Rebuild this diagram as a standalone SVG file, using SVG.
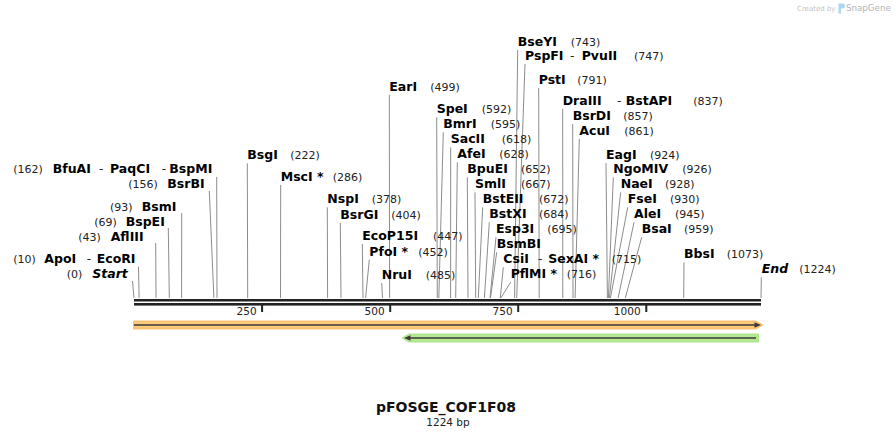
<svg xmlns="http://www.w3.org/2000/svg" width="895" height="438" viewBox="0 0 895 438">
<style>
text{font-family:"DejaVu Sans",Verdana,sans-serif}
.n{font-weight:bold;font-size:12.5px;fill:#000}
.i{font-weight:bold;font-style:italic;font-size:12.5px;fill:#000}
.p{font-size:11px;fill:#222}
.d{font-size:12px;fill:#222}
.t{font-size:10.5px;fill:#222}
.l{stroke:#8c8c8c;stroke-width:1;fill:none}
.tick{stroke:#222;stroke-width:2}
</style>
<rect width="895" height="438" fill="#fff"/>
<g id="logo">
<text x="797" y="10.5" style="font-size:7px;fill:#c4c4c4">Created by</text>
<path d="M838.5 3.5h4a2.5 2.5 0 0 1 0 5h-1.5v5h-2.5z" fill="#a9d8f0"/>
<text x="846" y="11" style="font-size:8.7px;fill:#b4b4b4">SnapGene</text>
</g>
<g id="connectors">
<line class="l" x1="216.7" y1="177" x2="217" y2="298"/>
<line class="l" x1="209.3" y1="191" x2="213.9" y2="298"/>
<line class="l" x1="181.7" y1="213" x2="181.6" y2="298"/>
<line class="l" x1="168.3" y1="228" x2="169.3" y2="298"/>
<line class="l" x1="155.7" y1="243" x2="156" y2="298"/>
<line class="l" x1="138.5" y1="266.7" x2="139.1" y2="298"/>
<line class="l" x1="132.5" y1="281" x2="134" y2="298"/>
<line class="l" x1="389.3" y1="94.7" x2="389.6" y2="298"/>
<line class="l" x1="247.3" y1="163.3" x2="247.7" y2="298"/>
<line class="l" x1="280.7" y1="185" x2="280.5" y2="298"/>
<line class="l" x1="327.3" y1="207.3" x2="327.6" y2="298"/>
<line class="l" x1="340.3" y1="223" x2="341" y2="298"/>
<line class="l" x1="362.3" y1="244" x2="363" y2="298"/>
<line class="l" x1="369.3" y1="259.7" x2="365.6" y2="298"/>
<line class="l" x1="381.7" y1="283" x2="382.5" y2="298"/>
<line class="l" x1="517.7" y1="50" x2="514.6" y2="298"/>
<line class="l" x1="525" y1="64" x2="516.7" y2="298"/>
<line class="l" x1="538.7" y1="88" x2="539.2" y2="298"/>
<line class="l" x1="562.7" y1="109" x2="562.8" y2="298"/>
<line class="l" x1="572.7" y1="124" x2="573" y2="298"/>
<line class="l" x1="579.3" y1="139" x2="575.1" y2="298"/>
<line class="l" x1="436.7" y1="117.3" x2="437.3" y2="298"/>
<line class="l" x1="443.3" y1="132.3" x2="438.8" y2="298"/>
<line class="l" x1="450.7" y1="147.3" x2="450.6" y2="298"/>
<line class="l" x1="457.3" y1="162.3" x2="455.7" y2="298"/>
<line class="l" x1="467.3" y1="177.3" x2="468" y2="298"/>
<line class="l" x1="475" y1="192.3" x2="475.7" y2="298"/>
<line class="l" x1="482.7" y1="207.3" x2="478.3" y2="298"/>
<line class="l" x1="489.3" y1="222.3" x2="484.4" y2="298"/>
<line class="l" x1="496" y1="237.3" x2="490" y2="298"/>
<line class="l" x1="496.7" y1="252.3" x2="490.5" y2="298"/>
<line class="l" x1="503.3" y1="267.3" x2="500.3" y2="298"/>
<line class="l" x1="510.7" y1="282.3" x2="500.8" y2="298"/>
<line class="l" x1="606" y1="163" x2="607.4" y2="298"/>
<line class="l" x1="613.3" y1="177.3" x2="608.4" y2="298"/>
<line class="l" x1="620.7" y1="192.3" x2="609.4" y2="298"/>
<line class="l" x1="627.7" y1="207.3" x2="610.4" y2="298"/>
<line class="l" x1="634" y1="222.3" x2="618.1" y2="298"/>
<line class="l" x1="641.7" y1="237.3" x2="625.3" y2="298"/>
<line class="l" x1="684" y1="262.3" x2="683.7" y2="298"/>
<line class="l" x1="761.3" y1="277.3" x2="761" y2="298"/>
</g>
<g id="map">
<rect x="134" y="299" width="627" height="2.5" fill="#222"/>
<rect x="134" y="303" width="627" height="2.6" fill="#222"/>
<line class="tick" x1="262.1" y1="305" x2="262.1" y2="312"/>
<line class="tick" x1="390.2" y1="305" x2="390.2" y2="312"/>
<line class="tick" x1="518.2" y1="305" x2="518.2" y2="312"/>
<line class="tick" x1="646.3" y1="305" x2="646.3" y2="312"/>
<text class="t" x="256.6" y="315" text-anchor="end">250</text>
<text class="t" x="384.6" y="315" text-anchor="end">500</text>
<text class="t" x="512.6" y="315" text-anchor="end">750</text>
<text class="t" x="640.6" y="315" text-anchor="end">1000</text>
</g>
<g id="feature-fwd">
<path d="M133.5 321H756L763 325L756 329H133.5Z" fill="#fcc87a" stroke="#f7b65c" stroke-width="0.8"/>
<line x1="134" y1="325" x2="756" y2="325" stroke="#3a3a3a" stroke-width="1.6"/>
<path d="M754.5 322.2L761 325L754.5 327.8Z" fill="#3a3a3a"/>
</g>
<g id="feature-rev">
<path d="M402 338L409 334H758.5V342H409Z" fill="#b6e994" stroke="#9edc78" stroke-width="0.8"/>
<line x1="408" y1="338" x2="756" y2="338" stroke="#3a3a3a" stroke-width="1.6"/>
<path d="M410.5 335.2L404 338L410.5 340.8Z" fill="#3a3a3a"/>
</g>
<g id="site-BfuAI"><text class="p" x="13.3" y="173.3">(162)</text><text class="n" x="52.7" y="173.3">BfuAI</text><text class="d" x="99" y="173.3">-</text><text class="n" x="110" y="173.3">PaqCI</text><text class="d" x="161.7" y="173.3">-</text><text class="n" x="169.3" y="173.3">BspMI</text></g>
<g id="site-BsrBI"><text class="p" x="128.3" y="187.7">(156)</text><text class="n" x="167.3" y="187.7">BsrBI</text></g>
<g id="site-BsmI"><text class="p" x="110" y="211">(93)</text><text class="n" x="141.7" y="211">BsmI</text></g>
<g id="site-BspEI"><text class="p" x="94.3" y="225.7">(69)</text><text class="n" x="125.7" y="225.7">BspEI</text></g>
<g id="site-AflIII"><text class="p" x="78.3" y="240.7">(43)</text><text class="n" x="110.7" y="240.7">AflIII</text></g>
<g id="site-ApoI"><text class="p" x="13.3" y="263.3">(10)</text><text class="n" x="44.3" y="263.3">ApoI</text><text class="d" x="86.7" y="263.3">-</text><text class="n" x="96.7" y="263.3">EcoRI</text></g>
<g id="site-Start"><text class="p" x="66.7" y="278.3">(0)</text><text class="i" x="92.3" y="278.3">Start</text></g>
<g id="site-EarI"><text class="n" x="389.3" y="90.7">EarI</text><text class="p" x="430.3" y="90.7">(499)</text></g>
<g id="site-BsgI"><text class="n" x="247.3" y="159.3">BsgI</text><text class="p" x="290.3" y="159.3">(222)</text></g>
<g id="site-MscI"><text class="n" x="280.7" y="181">MscI *</text><text class="p" x="332.7" y="181">(286)</text></g>
<g id="site-NspI"><text class="n" x="327.3" y="203.3">NspI</text><text class="p" x="371.7" y="203.3">(378)</text></g>
<g id="site-BsrGI"><text class="n" x="340.3" y="219">BsrGI</text><text class="p" x="391.3" y="219">(404)</text></g>
<g id="site-EcoP15I"><text class="n" x="362.3" y="240">EcoP15I</text><text class="p" x="433" y="240">(447)</text></g>
<g id="site-PfoI"><text class="n" x="369.3" y="255.7">PfoI *</text><text class="p" x="418.3" y="255.7">(452)</text></g>
<g id="site-NruI"><text class="n" x="381.7" y="279">NruI</text><text class="p" x="425.7" y="279">(485)</text></g>
<g id="site-BseYI"><text class="n" x="517.7" y="46">BseYI</text><text class="p" x="570.7" y="46">(743)</text></g>
<g id="site-PspFI"><text class="n" x="525" y="60">PspFI</text><text class="d" x="570" y="60">-</text><text class="n" x="581.7" y="60">PvuII</text><text class="p" x="634" y="60">(747)</text></g>
<g id="site-PstI"><text class="n" x="538.7" y="84">PstI</text><text class="p" x="577.3" y="84">(791)</text></g>
<g id="site-DraIII"><text class="n" x="562.7" y="105">DraIII</text><text class="d" x="617" y="105">-</text><text class="n" x="625.7" y="105">BstAPI</text><text class="p" x="693.3" y="105">(837)</text></g>
<g id="site-BsrDI"><text class="n" x="572.7" y="120">BsrDI</text><text class="p" x="623.3" y="120">(857)</text></g>
<g id="site-AcuI"><text class="n" x="579.3" y="135">AcuI</text><text class="p" x="624.3" y="135">(861)</text></g>
<g id="site-SpeI"><text class="n" x="436.7" y="113.3">SpeI</text><text class="p" x="481.7" y="113.3">(592)</text></g>
<g id="site-BmrI"><text class="n" x="443.3" y="128.3">BmrI</text><text class="p" x="490.7" y="128.3">(595)</text></g>
<g id="site-SacII"><text class="n" x="450.7" y="143.3">SacII</text><text class="p" x="501.7" y="143.3">(618)</text></g>
<g id="site-AfeI"><text class="n" x="457.3" y="158.3">AfeI</text><text class="p" x="499.3" y="158.3">(628)</text></g>
<g id="site-BpuEI"><text class="n" x="467.3" y="173.3">BpuEI</text><text class="p" x="521" y="173.3">(652)</text></g>
<g id="site-SmlI"><text class="n" x="475" y="188.3">SmlI</text><text class="p" x="521" y="188.3">(667)</text></g>
<g id="site-BstEII"><text class="n" x="482.7" y="203.3">BstEII</text><text class="p" x="539" y="203.3">(672)</text></g>
<g id="site-BstXI"><text class="n" x="489.3" y="218.3">BstXI</text><text class="p" x="539" y="218.3">(684)</text></g>
<g id="site-Esp3I"><text class="n" x="496" y="233.3">Esp3I</text><text class="p" x="547.3" y="233.3">(695)</text></g>
<g id="site-BsmBI"><text class="n" x="496.7" y="248.3">BsmBI</text></g>
<g id="site-CsiI"><text class="n" x="503.3" y="263.3">CsiI</text><text class="d" x="538" y="263.3">-</text><text class="n" x="548.3" y="263.3">SexAI *</text><text class="p" x="611.7" y="263.3">(715)</text></g>
<g id="site-PflMI"><text class="n" x="510.7" y="278.3">PflMI *</text><text class="p" x="566.7" y="278.3">(716)</text></g>
<g id="site-EagI"><text class="n" x="606" y="159">EagI</text><text class="p" x="650" y="159">(924)</text></g>
<g id="site-NgoMIV"><text class="n" x="613.3" y="173.3">NgoMIV</text><text class="p" x="682.3" y="173.3">(926)</text></g>
<g id="site-NaeI"><text class="n" x="620.7" y="188.3">NaeI</text><text class="p" x="665" y="188.3">(928)</text></g>
<g id="site-FseI"><text class="n" x="627.7" y="203.3">FseI</text><text class="p" x="670" y="203.3">(930)</text></g>
<g id="site-AleI"><text class="n" x="634" y="218.3">AleI</text><text class="p" x="675" y="218.3">(945)</text></g>
<g id="site-BsaI"><text class="n" x="641.7" y="233.3">BsaI</text><text class="p" x="684" y="233.3">(959)</text></g>
<g id="site-BbsI"><text class="n" x="684" y="258.3">BbsI</text><text class="p" x="726.7" y="258.3">(1073)</text></g>
<g id="site-End"><text class="i" x="761.7" y="273.3">End</text><text class="p" x="799.3" y="273.3">(1224)</text></g>
<g id="title">
<text x="446" y="412" text-anchor="middle" style="font-weight:bold;font-size:14px;fill:#111">pFOSGE_COF1F08</text>
<text x="448" y="425.5" text-anchor="middle" style="font-size:10.5px;fill:#222">1224 bp</text>
</g>
</svg>
